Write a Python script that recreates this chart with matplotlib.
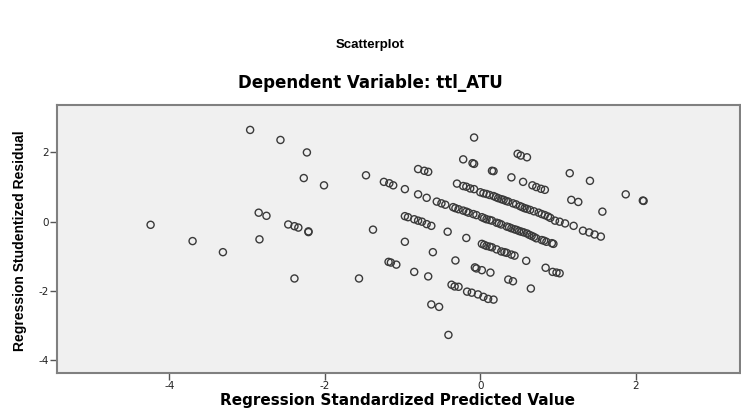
import matplotlib
matplotlib.use("Agg")
import matplotlib.pyplot as plt

# Regression Standardized Predicted Value (x) / Studentized Residual (y)
left_x = [-4.24, -3.70, -3.31, -2.96, -2.57, -2.23, -2.27, -2.01, -1.47, -1.24, -1.17, -1.12,
          -0.97, -0.80, -0.69, -0.80, -0.72, -0.67, -2.85, -2.75, -2.47, -2.39, -2.34, -2.21,
          -2.21, -1.38, -2.84, -0.97, -0.97, -0.93, -0.85, -0.80, -0.75, -0.69, -0.63, -0.61,
          -1.18, -1.15, -1.08, -0.85, -0.67, -2.39, -1.56, -0.63, -0.53]
left_y = [-0.09, -0.56, -0.88, 2.65, 2.36, 2.00, 1.26, 1.05, 1.34, 1.15, 1.11, 1.05,
          0.94, 0.79, 0.69, 1.52, 1.47, 1.44, 0.26, 0.17, -0.08, -0.13, -0.17, -0.28,
          -0.30, -0.23, -0.51, -0.58, 0.16, 0.13, 0.07, 0.03, 0.00, -0.07, -0.12, -0.88,
          -1.16, -1.18, -1.24, -1.45, -1.58, -1.64, -1.64, -2.39, -2.46]

upper_x = [-0.08, -0.22, -0.10, -0.08, 0.15, 0.17, 0.48, 0.52, 0.60, 0.40, 0.55, 0.67,
           0.72, 0.78, 0.83, 1.15, 1.41, 1.17, 1.26, 1.57, 1.87, 2.09, 2.10]
upper_y = [2.43, 1.80, 1.69, 1.67, 1.47, 1.46, 1.96, 1.91, 1.86, 1.28, 1.15, 1.05,
           1.00, 0.95, 0.92, 1.40, 1.18, 0.63, 0.57, 0.29, 0.79, 0.61, 0.60]

bandA_x = [-0.30, -0.22, -0.18, -0.13, -0.08, 0.00, 0.04, 0.08, 0.12, 0.17, 0.20, 0.23,
           0.27, 0.30, 0.33, 0.36, 0.42, 0.46, 0.51, 0.54, 0.57, 0.60, 0.64, 0.69, 0.75,
           0.79, 0.83, 0.87, 0.90, 0.96, 1.02, 1.09, 1.20, 1.32, 1.40, 1.47, 1.55]
bandA_y = [1.10, 1.03, 1.01, 0.96, 0.94, 0.85, 0.82, 0.80, 0.77, 0.74, 0.71, 0.68,
           0.65, 0.63, 0.60, 0.58, 0.53, 0.50, 0.45, 0.42, 0.39, 0.37, 0.34, 0.30, 0.26,
           0.22, 0.19, 0.15, 0.11, 0.03, 0.00, -0.05, -0.12, -0.26, -0.31, -0.37, -0.43]

bandB_x = [-0.56, -0.50, -0.45, -0.35, -0.32, -0.28, -0.22, -0.18, -0.15, -0.09, -0.05,
           0.02, 0.05, 0.08, 0.12, 0.15, 0.21, 0.24, 0.27, 0.34, 0.37, 0.40, 0.44, 0.47,
           0.50, 0.53, 0.56, 0.60, 0.63, 0.66, 0.69, 0.72, 0.79, 0.82, 0.85, 0.92, 0.94]
bandB_y = [0.58, 0.53, 0.49, 0.42, 0.39, 0.36, 0.32, 0.29, 0.26, 0.22, 0.19,
           0.13, 0.10, 0.07, 0.05, 0.03, -0.03, -0.05, -0.08, -0.14, -0.16, -0.19, -0.22, -0.24,
           -0.27, -0.29, -0.31, -0.34, -0.38, -0.41, -0.44, -0.48, -0.53, -0.55, -0.58, -0.62, -0.64]

lower_x = [-0.42, -0.18, 0.02, 0.05, 0.08, 0.12, 0.15, 0.21, 0.27, 0.31, 0.34, 0.40, 0.44,
           0.59, -0.32, -0.07, -0.05, 0.02, 0.13, 0.36, 0.42, 0.65, 0.84, 0.93, 0.98, 1.02,
           -0.37, -0.33, -0.28, -0.17, -0.11, -0.03, 0.04, 0.10, 0.17, -0.41]
lower_y = [-0.29, -0.47, -0.64, -0.67, -0.70, -0.72, -0.74, -0.80, -0.86, -0.88, -0.90, -0.95, -0.98,
           -1.13, -1.12, -1.32, -1.35, -1.40, -1.47, -1.67, -1.72, -1.93, -1.33, -1.45, -1.47, -1.49,
           -1.82, -1.87, -1.88, -2.02, -2.05, -2.10, -2.17, -2.23, -2.25, -3.27]

x_vals = left_x + upper_x + bandA_x + bandB_x + lower_x
y_vals = left_y + upper_y + bandA_y + bandB_y + lower_y

x_ticks = [-4, -2, 0, 2]
y_ticks = [-4, -2, 0, 2]

fig = plt.figure(figsize=(7.41, 4.15), dpi=100)
fig.patch.set_facecolor("white")
ax = fig.add_axes([0.0773, 0.102, 0.9214, 0.645])
ax.set_facecolor("#F0F0F0")
ax.scatter(x_vals, y_vals, s=26, facecolors="none", edgecolors="#3a3a3a", linewidths=1.0)
ax.set_xlim(-5.44, 3.34)
ax.set_ylim(-4.36, 3.37)
ax.set_xticks(x_ticks)
ax.set_yticks(y_ticks)
ax.set_xticklabels([str(t) for t in x_ticks])
ax.set_yticklabels([str(t) for t in y_ticks])
ax.tick_params(axis="both", direction="out", length=5, width=1, color="#555555",
               labelsize=7.5, labelcolor="#222222", pad=1)
for sp in ax.spines.values():
    sp.set_color("#808080")
    sp.set_linewidth(1.5)

fig.text(0.5, 0.892, "Scatterplot", ha="center", va="center",
         fontsize=9.5, fontweight="bold", family=["Liberation Sans", "DejaVu Sans"])
fig.text(0.5, 0.80, "Dependent Variable: ttl_ATU", ha="center", va="center",
         fontsize=12, fontweight="bold", family=["DejaVu Sans"])
fig.text(0.537, 0.034, "Regression Standardized Predicted Value", ha="center", va="center",
         fontsize=11, fontweight="bold", family=["DejaVu Sans"])
fig.text(0.027, 0.42, "Regression Studentized Residual", ha="center", va="center",
         rotation=90, fontsize=10, fontweight="bold",
         family=["Liberation Sans Narrow", "Liberation Sans", "DejaVu Sans"])

fig.savefig("out.png", dpi=100)
